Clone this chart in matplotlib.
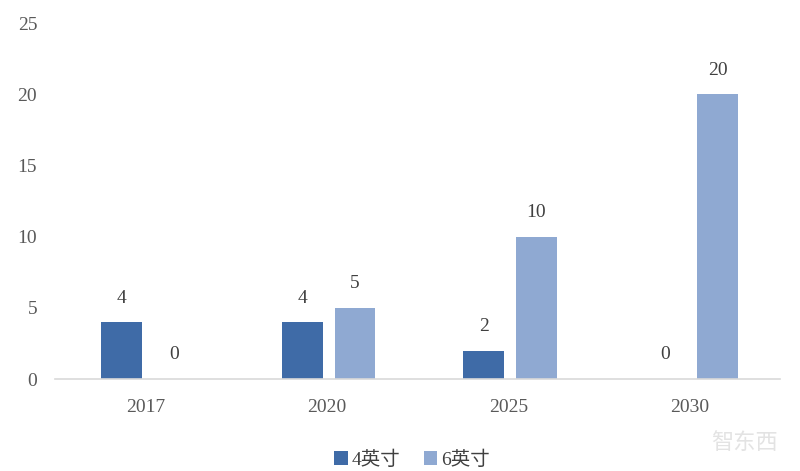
import matplotlib
matplotlib.use("Agg")
import matplotlib.pyplot as plt
import numpy as np

years = ["2017", "2020", "2025", "2030"]
inch4 = [4, 4, 2, 0]
inch6 = [0, 5, 10, 20]
series_names = ["4英寸", "6英寸"]

plt.rcParams['font.family'] = ['Liberation Serif', 'Noto Sans CJK SC']

fig = plt.figure(figsize=(8, 4.71), dpi=100)
ax = fig.add_axes([0.069, 0.195, 0.906, 0.756])

x = np.arange(len(years))
w = 0.225
dark = "#3F6BA7"
light = "#8FA9D2"
b1 = ax.bar(x - 0.135, inch4, w, color=dark, label=series_names[0])
b2 = ax.bar(x + 0.155, inch6, w, color=light, label=series_names[1])

for bars, vals in ((b1, inch4), (b2, inch6)):
    for b, v in zip(bars, vals):
        ax.text(b.get_x() + b.get_width() / 2, v + 1.1, str(v),
                ha="center", va="bottom", fontsize=14, color="#404040")

ax.set_xlim(-0.5, 3.5)
ax.set_ylim(0, 25)
ax.set_yticks([0, 5, 10, 15, 20, 25])
ax.set_xticks(x)
ax.set_xticklabels(years)
ax.tick_params(axis="both", length=0, labelsize=14, labelcolor="#595959")
ax.tick_params(axis="y", pad=13)
ax.tick_params(axis="x", pad=14)
for s in ["top", "right", "left"]:
    ax.spines[s].set_visible(False)
ax.spines["bottom"].set_color("#D9D9D9")
ax.spines["bottom"].set_linewidth(1.2)

fig.legend(handles=[b1, b2], loc="center", bbox_to_anchor=(0.515, 0.024),
           ncol=2, frameon=False, fontsize=14, handlelength=0.7,
           handleheight=0.7, handletextpad=0.2, columnspacing=1.2,
           labelcolor="#404040")

fig.text(0.93, 0.06, "智东西", fontsize=16, color="#E3E3E3",
         ha="center", va="center", family=['Noto Sans CJK SC'])

fig.savefig("out.png", dpi=100)
